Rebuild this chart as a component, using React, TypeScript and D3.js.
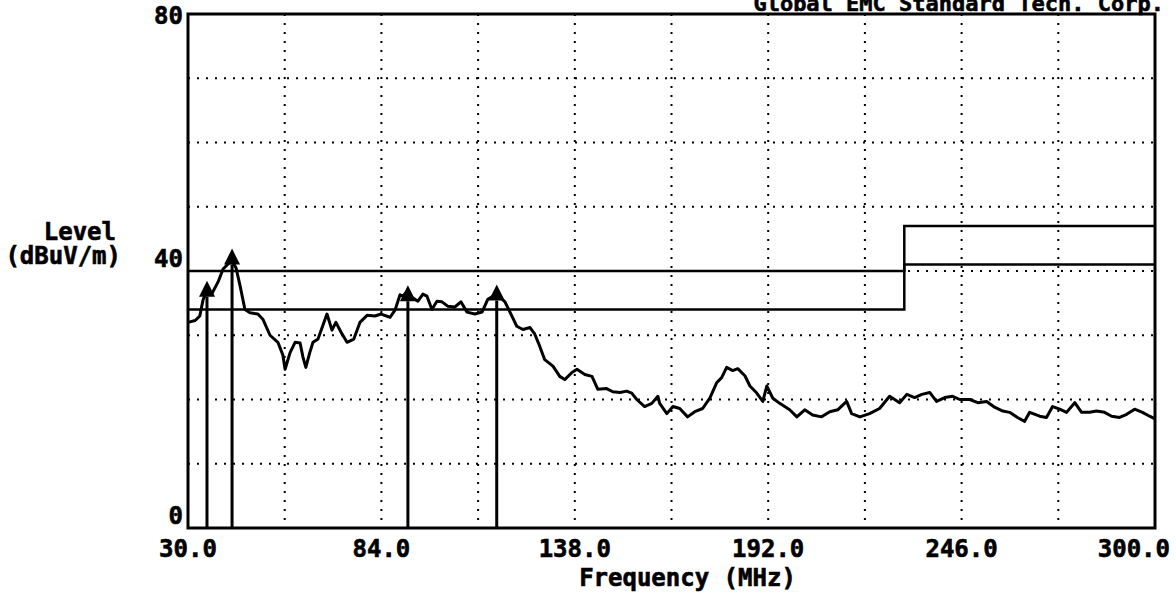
import React from 'react';
import * as d3 from 'd3';

// spectrum trace (MHz, dBuV/m)
const traceFreq = [
  30.0, 32.0, 33.3, 34.2, 35.3, 36.7, 38.4, 39.8, 41.2, 42.3, 43.4, 44.5, 45.9, 47.3, 49.5, 50.9,
  52.9, 55.1, 56.5, 57.1, 58.5, 59.9, 61.3, 62.1, 62.9, 64.0, 64.9, 66.3, 67.7, 68.8, 70.2, 71.3,
  72.7, 74.4, 76.3, 78.0, 80.0, 82.2, 83.9, 86.4, 87.8, 89.2, 90.0, 91.4, 92.5, 94.2, 95.6, 96.7,
  98.1, 99.5, 100.9, 102.6, 104.5, 106.2, 107.9, 110.1, 112.1, 113.7, 116.2, 118.5, 119.9, 121.8,
  123.5, 125.5, 126.8, 128.2, 129.6, 131.9, 133.8, 135.2, 137.2, 138.6, 140.8, 142.8, 144.4, 146.9,
  148.6, 150.6, 152.5, 153.9, 155.3, 157.5, 159.5, 161.2, 161.7, 163.7, 165.4, 167.3, 169.5, 171.5,
  173.7, 175.7, 177.6, 179.0, 180.4, 182.1, 183.5, 185.5, 186.9, 188.8, 190.5, 191.6, 193.3, 195.2,
  198.0, 200.0, 202.2, 204.4, 206.9, 209.2, 211.4, 213.9, 215.3, 217.6, 220.3, 223.1, 225.9, 228.7,
  230.7, 232.9, 234.9, 237.1, 239.0, 241.3, 243.5, 245.5, 248.3, 250.5, 253.0, 255.2, 257.5, 259.4,
  261.6, 263.6, 265.0, 267.8, 269.7, 271.4, 273.4, 275.3, 277.6, 279.5, 281.7, 283.7, 285.9, 287.9,
  290.1, 292.1, 294.3, 296.5, 298.5, 300.0,
];
const traceLevel = [
  32.0, 32.3, 33.0, 35.5, 37.0, 36.5, 38.3, 40.3, 41.1, 41.5, 40.5, 37.8, 34.0, 33.5, 33.3, 32.5,
  30.0, 28.9, 26.9, 24.7, 27.3, 28.9, 28.8, 26.6, 25.0, 27.3, 28.9, 29.4, 31.6, 33.3, 30.8, 32.0,
  30.5, 28.9, 29.4, 32.0, 33.1, 33.0, 33.3, 32.8, 33.9, 36.3, 36.1, 36.9, 35.9, 35.3, 36.4, 36.1,
  34.0, 35.3, 35.2, 34.5, 34.4, 35.2, 33.6, 33.3, 33.6, 35.6, 36.4, 35.2, 33.6, 31.4,
  30.9, 31.2, 30.2, 28.3, 26.2, 25.2, 23.6, 23.1, 24.2, 24.7, 23.9, 23.6, 21.6, 21.7,
  21.2, 21.1, 21.3, 21.0, 20.0, 18.9, 19.4, 20.5, 19.4, 17.8, 18.9, 18.6, 17.3, 18.1,
  18.6, 20.2, 22.6, 23.4, 25.0, 24.5, 24.8, 23.7, 22.1, 21.0, 19.7, 22.1, 20.2, 19.4,
  18.4, 17.3, 18.4, 17.6, 17.3, 18.1, 18.4, 19.7, 17.8, 17.3, 17.8, 18.6, 20.5, 19.5,
  20.8, 20.3, 20.8, 21.1, 19.7, 20.3, 20.5, 20.0, 20.0, 19.5, 19.7, 18.8, 18.2, 18.0,
  17.2, 16.6, 18.0, 17.4, 17.2, 18.9, 18.5, 18.0, 19.5, 18.0, 18.0, 18.2, 18.0, 17.4,
  17.2, 17.7, 18.5, 18.0, 17.4, 17.0,
];

// limit line and limit - 6 dB margin line
const limitFreq = [30, 230, 300];
const limitUpper = [40, 47, 47];
const limitLower = [34, 41, 41];

// peak markers
const markerFreq = [35.3, 42.3, 91.4, 116.2];
const markerLevel = [36.0, 41.0, 35.3, 35.4];

const xTicks = [30, 84, 138, 192, 246, 300];
const xGrid = [57, 84, 111, 138, 165, 192, 219, 246, 273];
const yTicks = [0, 40, 80];
const yGrid = [10, 20, 30, 40, 50, 60, 70];

const W = 1176;
const H = 598;
const m = { left: 188, right: 1155, top: 14, bottom: 528 };
const font = '"DejaVu Sans Mono", "Liberation Mono", monospace';

export default function App() {
  const x = d3.scaleLinear().domain([30, 300]).range([m.left, m.right]);
  const y = d3.scaleLinear().domain([0, 80]).range([m.bottom, m.top]);

  const trace = d3
    .line<number>()
    .x((d) => x(d))
    .y((d, i) => y(traceLevel[i]))(traceFreq);

  const step = (vals: number[]) =>
    d3
      .line<number>()
      .curve(d3.curveStepAfter)
      .x((d) => x(d))
      .y((d, i) => y(vals[i]))(limitFreq);

  return (
    <svg
      width={W}
      height={H}
      style={{ position: 'absolute', left: 0, top: 0, background: '#fff' }}
      fontFamily={font}
      fontWeight="bold"
    >
      <rect x={0} y={0} width={W} height={H} fill="#fff" />

      {/* dotted grid */}
      <g stroke="#000" strokeWidth={2} strokeDasharray="2,7">
        {xGrid.map((f) => (
          <line key={'gx' + f} x1={x(f)} x2={x(f)} y1={y(80)} y2={y(0)} />
        ))}
        {yGrid.map((v) => (
          <line key={'gy' + v} x1={x(30)} x2={x(300)} y1={y(v)} y2={y(v)} />
        ))}
      </g>

      {/* limit lines */}
      <path d={step(limitUpper) || ''} fill="none" stroke="#000" strokeWidth={2.5} />
      <path d={step(limitLower) || ''} fill="none" stroke="#000" strokeWidth={2.5} />

      {/* trace */}
      <path d={trace || ''} fill="none" stroke="#000" strokeWidth={3} strokeLinejoin="round" />

      {/* markers */}
      {markerFreq.map((f, i) => {
        const mx = x(f);
        const my = y(markerLevel[i]);
        return (
          <g key={'mk' + i}>
            <line x1={mx} x2={mx} y1={y(0)} y2={my} stroke="#000" strokeWidth={3} />
            <path d={`M${mx - 8},${my} L${mx + 8},${my} L${mx},${my - 16} Z`} fill="#000" />
          </g>
        );
      })}

      {/* frame */}
      <rect
        x={m.left}
        y={m.top}
        width={m.right - m.left}
        height={m.bottom - m.top}
        fill="none"
        stroke="#000"
        strokeWidth={3}
      />

      {/* axis labels */}
      <g fontSize={24} fill="#000" stroke="#000" strokeWidth={0.6}>
        {yTicks.map((v) => (
          <text key={'yt' + v} x={m.left - 5} y={Math.max(y(v) - 12, 16)} dy="0.35em" textAnchor="end">
            {v}
          </text>
        ))}
        {xTicks.map((f, i) => (
          <text
            key={'xt' + f}
            x={i === xTicks.length - 1 ? W - 6 : x(f)}
            y={m.bottom + 29}
            textAnchor={i === xTicks.length - 1 ? 'end' : 'middle'}
          >
            {f.toFixed(1)}
          </text>
        ))}
        <text x={116} y={240} textAnchor="end">Level</text>
        <text x={121} y={264} textAnchor="end">(dBuV/m)</text>
        <text x={(m.left + m.right) / 2 + 16} y={586} textAnchor="middle">
          Frequency (MHz)
        </text>
        <text x={1164} y={11} textAnchor="end" fontSize={22}>
          Global EMC Standard Tech. Corp.
        </text>
      </g>
    </svg>
  );
}
